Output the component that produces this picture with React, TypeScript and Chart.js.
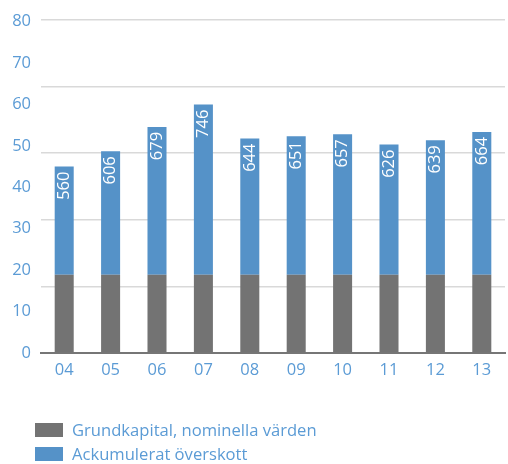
import React, { useEffect, useRef } from "react";
import { Chart, registerables } from "chart.js";

Chart.register(...registerables);

const years = ["04", "05", "06", "07", "08", "09", "10", "11", "12", "13"];
const totals = [560, 606, 679, 746, 644, 651, 657, 626, 639, 664];
const grundkapital = [235, 235, 235, 235, 235, 235, 235, 235, 235, 235];
const axisLabels = [0, 10, 20, 30, 40, 50, 60, 70, 80];
const seriesNames = ["Grundkapital, nominella värden", "Ackumulerat överskott"];

const GREY = "#737373";
const BLUE = "#5592c8";
const TEXT_BLUE = "#5b9bd5";
const FONT = "'Open Sans', sans-serif";

const barLabels = {
  id: "barLabels",
  afterDatasetsDraw(chart: any) {
    const meta = chart.getDatasetMeta(1);
    const ctx = chart.ctx;
    ctx.save();
    ctx.fillStyle = "#ffffff";
    ctx.font = `16.5px ${FONT}`;
    ctx.textAlign = "right";
    ctx.textBaseline = "middle";
    meta.data.forEach((bar: any, i: number) => {
      ctx.save();
      ctx.translate(bar.x, bar.y + 5);
      ctx.rotate(-Math.PI / 2);
      ctx.fillText(String(totals[i]), 0, 0);
      ctx.restore();
    });
    ctx.restore();
  },
};

export default function App() {
  const ref = useRef<HTMLCanvasElement>(null);
  useEffect(() => {
    if (!ref.current) return;
    const chart = new Chart(ref.current, {
      type: "bar",
      data: {
        labels: years,
        datasets: [
          {
            label: seriesNames[0],
            data: grundkapital,
            backgroundColor: GREY,
            yAxisID: "y",
          },
          {
            label: seriesNames[1],
            data: totals.map((t, i) => t - grundkapital[i]),
            backgroundColor: BLUE,
            yAxisID: "y",
          },
        ],
      },
      options: {
        animation: false,
        responsive: false,
        maintainAspectRatio: false,
        layout: { padding: { top: 20, right: 3, left: 0, bottom: 0 } },
        datasets: { bar: { categoryPercentage: 1, barPercentage: 0.41 } },
        plugins: { legend: { display: false }, tooltip: { enabled: false } },
        scales: {
          x: {
            stacked: true,
            grid: { display: false, drawTicks: false },
            border: { display: true, color: "#767676", width: 2 },
            ticks: { color: TEXT_BLUE, font: { family: FONT, size: 16.5 }, padding: 7 },
            afterFit(scale: any) {
              scale.height = 32;
            },
          },
          y: {
            stacked: true,
            min: 0,
            max: 1000,
            position: "left",
            grid: { color: "#d9d9d9", lineWidth: 1.5, drawTicks: false },
            border: { display: false },
            ticks: { display: false, stepSize: 200 },
            afterFit(scale: any) {
              scale.width = 0;
            },
          },
          yl: {
            min: 0,
            max: 80.4,
            position: "left",
            grid: { display: false, drawTicks: false },
            border: { display: false },
            afterBuildTicks(scale: any) {
              scale.ticks = axisLabels.map((v) => ({ value: v }));
            },
            ticks: {
              color: TEXT_BLUE,
              font: { family: FONT, size: 16.5 },
              padding: 10,
            },
            afterFit(scale: any) {
              scale.width = 41;
            },
          },
        },
      },
      plugins: [barLabels],
    } as any);
    return () => chart.destroy();
  }, []);

  return (
    <div style={{ position: "fixed", left: 0, top: 0, width: 508, height: 464, background: "#fff" }}>
      <canvas ref={ref} width={508} height={385} style={{ display: "block" }} />
      <div
        style={{
          position: "absolute",
          left: 35,
          top: 418,
          fontFamily: FONT,
          fontSize: 16.6,
          color: TEXT_BLUE,
          lineHeight: "24px",
        }}
      >
        {seriesNames.map((name, i) => (
          <div key={name} style={{ display: "flex", alignItems: "center", height: 24 }}>
            <span
              style={{
                display: "inline-block",
                width: 28,
                height: 14,
                background: i === 0 ? GREY : BLUE,
                marginRight: 9,
              }}
            />
            <span>{name}</span>
          </div>
        ))}
      </div>
    </div>
  );
}
